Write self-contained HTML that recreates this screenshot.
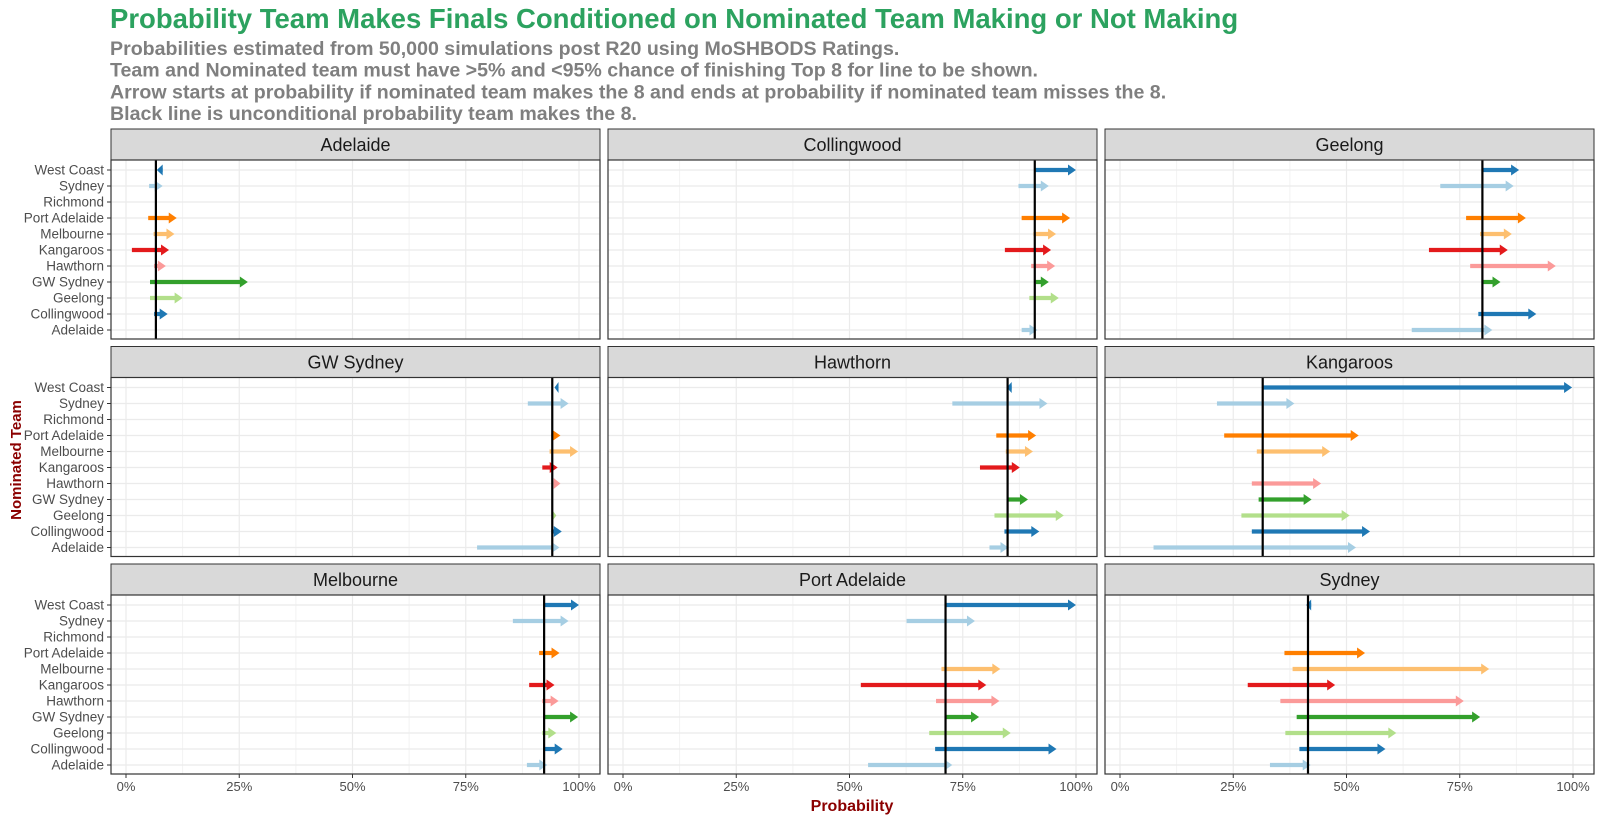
<!DOCTYPE html>
<html><head><meta charset="utf-8">
<style>
body{margin:0;background:#fff;}
svg{display:block;font-family:"Liberation Sans",sans-serif;}
</style></head>
<body>
<svg id="chart" width="1600" height="822" viewBox="0 0 1600 822" xmlns="http://www.w3.org/2000/svg">
<text x="110" y="28" font-size="27.5" font-weight="bold" fill="#2ca25f">Probability Team Makes Finals Conditioned on Nominated Team Making or Not Making</text>
<g font-size="19.6" font-weight="bold" fill="#7f7f7f">
<text x="110" y="55">Probabilities estimated from 50,000 simulations post R20 using MoSHBODS Ratings.</text>
<text x="110" y="76.7">Team and Nominated team must have &gt;5% and &lt;95% chance of finishing Top 8 for line to be shown.</text>
<text x="110" y="98.3">Arrow starts at probability if nominated team makes the 8 and ends at probability if nominated team misses the 8.</text>
<text x="110" y="120">Black line is unconditional probability team makes the 8.</text>
</g>
<text transform="translate(21,460) rotate(-90)" text-anchor="middle" font-size="15" font-weight="bold" fill="#8b0000">Nominated Team</text>
<text x="852" y="811" text-anchor="middle" font-size="16" font-weight="bold" fill="#8b0000">Probability</text>
<g id="panels"></g>
</svg>
<script>
const categories = ["West Coast","Sydney","Richmond","Port Adelaide","Melbourne","Kangaroos","Hawthorn","GW Sydney","Geelong","Collingwood","Adelaide"];
const catColors = ["#1f78b4","#a6cee3","#cab2d6","#ff7f00","#fdbf6f","#e31a1c","#fb9a99","#33a02c","#b2df8a","#1f78b4","#a6cee3"];
const panelTeams = ["Adelaide","Collingwood","Geelong","GW Sydney","Hawthorn","Kangaroos","Melbourne","Port Adelaide","Sydney"];
const uncond = [6.6, 90.9, 80.0, 94.1, 84.9, 31.5, 92.3, 71.2, 41.5];
const xTicks = [0,25,50,75,100];
const xTickLabels = ["0%","25%","50%","75%","100%"];
// order of categories above; null = not shown
const makes = [
 [8.1,5.1,null,4.9,6.1,1.3,6.2,5.3,5.3,6.2,null],
 [90.9,87.3,null,88.0,90.6,84.3,90.1,91.1,89.7,null,88.0],
 [80.0,70.7,null,76.4,79.5,68.2,77.3,80.0,null,79.1,64.4],
 [95.3,88.7,null,93.9,93.5,91.9,94.4,null,94.1,93.9,77.5],
 [85.8,72.7,null,82.4,84.5,78.8,null,84.9,82.0,84.2,80.9],
 [31.5,21.4,null,23.0,30.2,null,29.1,30.6,26.8,29.1,7.4],
 [92.3,85.4,null,91.2,null,89.0,91.9,92.3,91.9,92.1,88.5],
 [71.2,62.6,null,null,70.3,52.5,69.1,71.2,67.6,68.9,54.1],
 [42.2,null,null,36.3,38.1,28.2,35.4,39.0,36.5,39.6,33.1]
];
const misses = [
 [6.8,8.1,null,11.2,10.7,9.5,8.8,26.9,12.5,9.2,null],
 [100.0,94.0,null,98.7,95.6,94.5,95.4,94.0,96.2,null,91.5],
 [88.1,86.9,null,89.6,86.5,85.6,96.2,84.0,null,91.9,82.2],
 [94.6,97.7,null,95.9,99.8,95.3,95.9,null,95.0,96.2,95.7],
 [84.7,93.7,null,91.2,90.5,87.6,null,89.4,97.3,91.9,85.1],
 [99.8,38.5,null,52.7,46.4,null,44.4,42.3,50.7,55.2,52.1],
 [100.0,97.7,null,95.7,null,94.6,95.5,99.8,95.0,96.4,93.0],
 [100.0,77.7,null,null,83.3,80.2,83.1,78.6,85.6,95.7,72.7],
 [41.1,null,null,54.1,81.5,47.5,75.9,79.5,61.0,58.6,42.1]
];

const NS="http://www.w3.org/2000/svg";
const root=document.getElementById('panels');
function mk(tag,attrs,parent){const e=document.createElementNS(NS,tag);for(const k in attrs)e.setAttribute(k,attrs[k]);parent.appendChild(e);return e;}
const PW=489, PH=179, SH=31;
function panelLeft(c){return 111+c*497;}
function stripTop(r){return 129+r*217.5;}
function xScale(c,v){return panelLeft(c)+15+v*4.53;}
function yScale(r,i){return stripTop(r)+SH+10+i*16;}

panelTeams.forEach((team,p)=>{
  const r=Math.floor(p/3), c=p%3;
  const L=panelLeft(c), ST=stripTop(r), T=ST+SH;
  const g=mk('g',{},root);
  
  
  const strip=mk('rect',{x:L,y:ST,width:PW,height:SH,fill:'#d9d9d9',stroke:'#333',"stroke-width":1},g);
  
  
  const st=mk('text',{x:L+PW/2,y:ST+22,"text-anchor":"middle","font-size":18,fill:"#1a1a1a"},g);
  st.textContent=team;
  
  
  mk('rect',{x:L,y:T,width:PW,height:PH,fill:'#fff'},g);
  for(let k=0;k<4;k++){const v=12.5+25*k;const x=xScale(c,v);
    const gl=mk('line',{x1:x,x2:x,y1:T,y2:T+PH,stroke:'#f2f2f2',"stroke-width":1},g);
    
    }
  xTicks.forEach((v,k)=>{const x=xScale(c,v);
    const gl=mk('line',{x1:x,x2:x,y1:T,y2:T+PH,stroke:'#ebebeb',"stroke-width":1.2},g);
    
    
    if(r===2){
      mk('line',{x1:x,x2:x,y1:T+PH,y2:T+PH+4,stroke:'#333',"stroke-width":1},g);
      const tl=mk('text',{x:x,y:T+PH+17,"text-anchor":"middle","font-size":13,fill:"#4d4d4d"},g);
      tl.textContent=xTickLabels[k];
      
      
    }});
  categories.forEach((cat,i)=>{const y=yScale(r,i);
    const gl=mk('line',{x1:L,x2:L+PW,y1:y,y2:y,stroke:'#ebebeb',"stroke-width":1.2},g);
    
    
    if(c===0){
      mk('line',{x1:L-4,x2:L,y1:y,y2:y,stroke:'#333',"stroke-width":1},g);
      const tl=mk('text',{x:L-7,y:y+4.5,"text-anchor":"end","font-size":13.5,fill:"#4d4d4d"},g);
      tl.textContent=cat;
      
      
    }});
  categories.forEach((cat,i)=>{
    const a=makes[p][i], b=misses[p][i];
    if(a===null||b===null) return;
    const y=yScale(r,i), x1=xScale(c,a), x2=xScale(c,b);
    const dir=x2>=x1?1:-1, hl=Math.min(8,Math.max(4,Math.abs(x2-x1)));
    const ag=mk('g',{},g);
    
    
    mk('line',{x1:x1,x2:x2-dir*hl*0.7,y1:y,y2:y,stroke:catColors[i],"stroke-width":4.2},ag);
    mk('polygon',{points:`${x2},${y} ${x2-dir*hl},${y-5.5} ${x2-dir*hl},${y+5.5}`,fill:catColors[i]},ag);
  });
  const ux=xScale(c,uncond[p]);
  const ul=mk('line',{x1:ux,x2:ux,y1:T,y2:T+PH,stroke:'#000',"stroke-width":2.2},g);
  
  
  const border=mk('rect',{x:L,y:T,width:PW,height:PH,fill:'none',stroke:'#333',"stroke-width":1.2},g);
  
  
});
</script>
</body></html>
